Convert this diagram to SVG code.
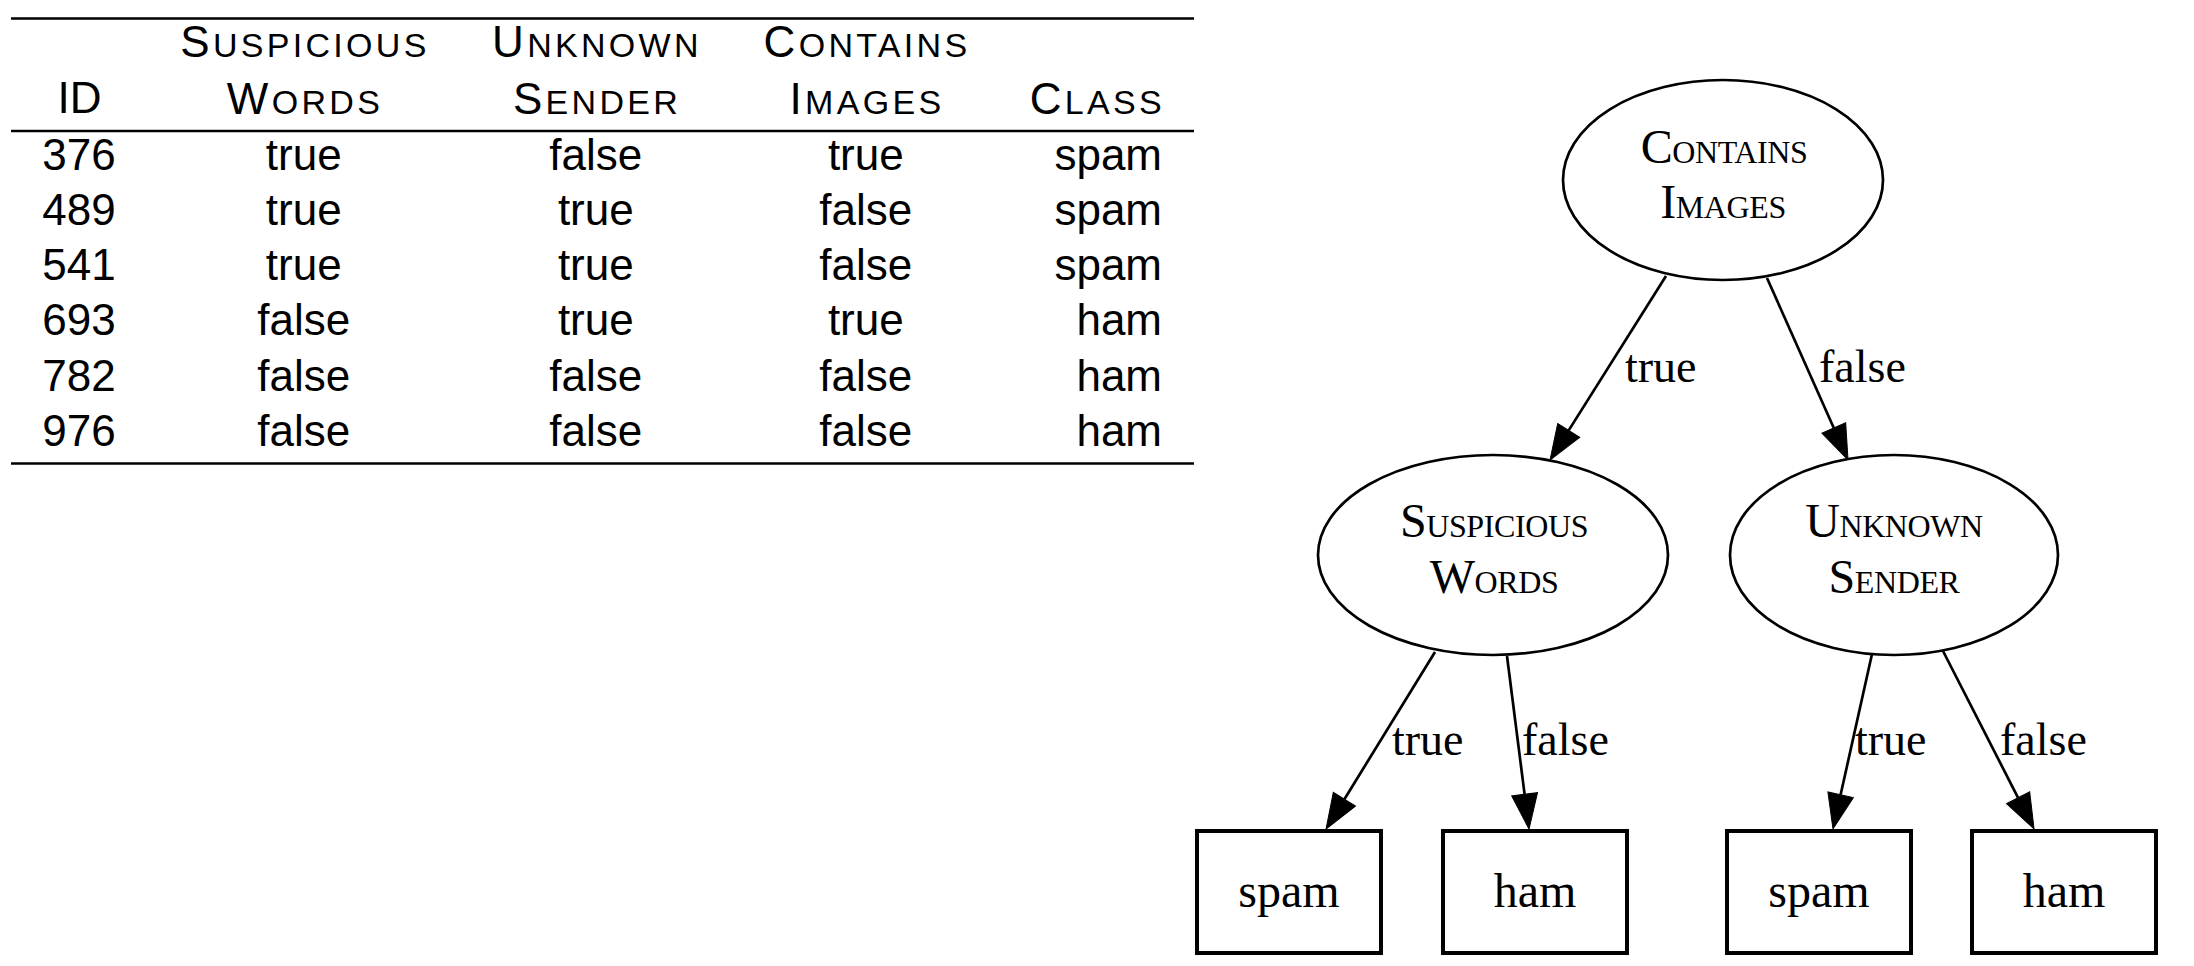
<svg xmlns="http://www.w3.org/2000/svg" width="2194" height="966" viewBox="0 0 2194 966">
<style>
.t{font-family:"Liberation Sans",Arial,Helvetica,sans-serif;font-size:44px;fill:#000}
.th{letter-spacing:3.3px}
.tsc{font-size:34px}
.c{text-anchor:middle}
.e{text-anchor:end}
.rule{stroke:#000;stroke-width:2.6}
.g{font-family:"Liberation Serif","Times New Roman",Times,serif;fill:#000}
.nt{font-size:48px;text-anchor:middle;letter-spacing:-0.4px}
.nsc{font-size:32px}
.lbl{font-size:46px}
.leaf{font-size:48px;text-anchor:middle}
.ell{fill:#fff;stroke:#000;stroke-width:2.7}
.box{fill:#fff;stroke:#000;stroke-width:4}
.edge{stroke:#000;stroke-width:2.7;fill:none;marker-end:url(#ah)}
</style>
<defs>
<marker id="ah" markerUnits="userSpaceOnUse" markerWidth="40" markerHeight="30" refX="0" refY="0" viewBox="0 -15 40 30" orient="auto" overflow="visible">
<path d="M0,-13 L35,0 L0,13 Z" fill="#000" stroke="#000" stroke-width="1"/>
</marker>
</defs>
<rect width="2194" height="966" fill="#fff"/>

<g id="table">
<line class="rule" x1="11" y1="18.5" x2="1194" y2="18.5"/>
<line class="rule" x1="11" y1="131" x2="1194" y2="131"/>
<line class="rule" x1="11" y1="463.5" x2="1194" y2="463.5"/>
<text class="t th c" x="305" y="57">S<tspan class="tsc">USPICIOUS</tspan></text>
<text class="t th c" x="597" y="57">U<tspan class="tsc">NKNOWN</tspan></text>
<text class="t th c" x="867" y="57">C<tspan class="tsc">ONTAINS</tspan></text>
<text class="t c" x="79.5" y="113">ID</text>
<text class="t th c" x="305" y="113.5">W<tspan class="tsc">ORDS</tspan></text>
<text class="t th c" x="597" y="113.5">S<tspan class="tsc">ENDER</tspan></text>
<text class="t th c" x="867" y="113.5">I<tspan class="tsc">MAGES</tspan></text>
<text class="t th e" x="1165" y="113.5">C<tspan class="tsc">LASS</tspan></text>

<g class="t">
<text class="c" x="79" y="169.5">376</text><text class="c" x="303.7" y="169.5">true</text><text class="c" x="595.8" y="169.5">false</text><text class="c" x="865.8" y="169.5">true</text><text class="e" x="1162" y="169.5">spam</text>
<text class="c" x="79" y="224.8">489</text><text class="c" x="303.7" y="224.8">true</text><text class="c" x="595.8" y="224.8">true</text><text class="c" x="865.8" y="224.8">false</text><text class="e" x="1162" y="224.8">spam</text>
<text class="c" x="79" y="280.1">541</text><text class="c" x="303.7" y="280.1">true</text><text class="c" x="595.8" y="280.1">true</text><text class="c" x="865.8" y="280.1">false</text><text class="e" x="1162" y="280.1">spam</text>
<text class="c" x="79" y="335.4">693</text><text class="c" x="303.7" y="335.4">false</text><text class="c" x="595.8" y="335.4">true</text><text class="c" x="865.8" y="335.4">true</text><text class="e" x="1162" y="335.4">ham</text>
<text class="c" x="79" y="390.7">782</text><text class="c" x="303.7" y="390.7">false</text><text class="c" x="595.8" y="390.7">false</text><text class="c" x="865.8" y="390.7">false</text><text class="e" x="1162" y="390.7">ham</text>
<text class="c" x="79" y="446">976</text><text class="c" x="303.7" y="446">false</text><text class="c" x="595.8" y="446">false</text><text class="c" x="865.8" y="446">false</text><text class="e" x="1162" y="446">ham</text>
</g>
</g>

<g id="connectors">
<line class="edge" x1="1666" y1="276" x2="1568.7" y2="430.4"/>
<line class="edge" x1="1767" y1="278" x2="1833.8" y2="428"/>
<line class="edge" x1="1435" y1="652" x2="1344.4" y2="799.2"/>
<line class="edge" x1="1507" y1="656" x2="1524.6" y2="794.3"/>
<line class="edge" x1="1872" y1="654" x2="1840.6" y2="794.8"/>
<line class="edge" x1="1943" y1="651" x2="2018.1" y2="797.8"/>
<g class="g lbl">
<text x="1625" y="382">true</text>
<text x="1819" y="382">false</text>
<text x="1392" y="755">true</text>
<text x="1522" y="755">false</text>
<text x="1855" y="755">true</text>
<text x="2000" y="755">false</text>
</g>
</g>

<g id="node-contains-images">
<ellipse class="ell" cx="1723" cy="180" rx="160" ry="100"/>
<text class="g nt" x="1724" y="163">C<tspan class="nsc">ONTAINS</tspan></text>
<text class="g nt" x="1723" y="218">I<tspan class="nsc">MAGES</tspan></text>
</g>
<g id="node-suspicious-words">
<ellipse class="ell" cx="1493" cy="555" rx="175" ry="100"/>
<text class="g nt" x="1494" y="537">S<tspan class="nsc">USPICIOUS</tspan></text>
<text class="g nt" x="1494" y="593">W<tspan class="nsc">ORDS</tspan></text>
</g>
<g id="node-unknown-sender">
<ellipse class="ell" cx="1894" cy="555" rx="164" ry="100"/>
<text class="g nt" x="1894" y="537">U<tspan class="nsc">NKNOWN</tspan></text>
<text class="g nt" x="1894" y="593">S<tspan class="nsc">ENDER</tspan></text>
</g>
<g id="leaf-spam-1">
<rect class="box" x="1197" y="831" width="184" height="122"/>
<text class="g leaf" x="1289" y="907">spam</text>
</g>
<g id="leaf-ham-1">
<rect class="box" x="1443" y="831" width="184" height="122"/>
<text class="g leaf" x="1535" y="907">ham</text>
</g>
<g id="leaf-spam-2">
<rect class="box" x="1727" y="831" width="184" height="122"/>
<text class="g leaf" x="1819" y="907">spam</text>
</g>
<g id="leaf-ham-2">
<rect class="box" x="1972" y="831" width="184" height="122"/>
<text class="g leaf" x="2064" y="907">ham</text>
</g>
</svg>
